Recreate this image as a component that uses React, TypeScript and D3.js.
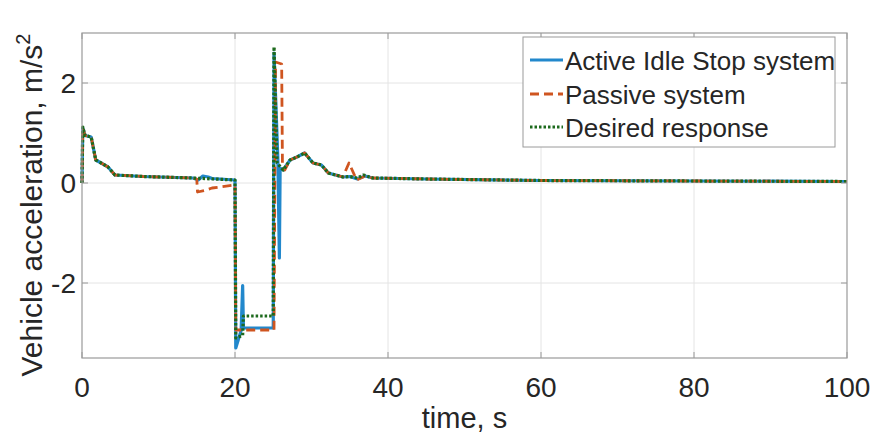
import { useMemo } from 'react';
import * as d3 from 'd3';

// time (s), acceleration (m/s^2)
const activeIdleStop: [number, number][] = [
  [0, 0], [0.1, 1.1], [0.4, 0.95], [1.2, 0.92], [1.8, 0.46], [2.5, 0.4], [3.4, 0.32], [4.3, 0.16],
  [8, 0.13], [14.5, 0.1], [15.2, 0.06], [15.8, 0.14], [16.5, 0.12], [17, 0.09], [20, 0.06],
  [20.1, -3.3], [20.8, -2.95], [21, -2.05], [21.1, -2.9], [25, -2.9], [25.1, 2.6], [25.6, 0.5],
  [25.8, -1.5], [25.9, 0.3], [26.3, 0.26], [27.2, 0.46], [28.1, 0.52], [29.1, 0.6], [30.2, 0.4],
  [31.3, 0.36], [32.2, 0.2], [34.1, 0.12], [35, 0.13], [36, 0.08], [37, 0.14], [38, 0.1],
  [45, 0.08], [60, 0.05], [80, 0.04], [100, 0.03],
];

const passiveSystem: [number, number][] = [
  [0, 0], [0.1, 1.1], [0.4, 0.95], [1.2, 0.92], [1.8, 0.46], [2.5, 0.4], [3.4, 0.32], [4.3, 0.16],
  [8, 0.13], [14.5, 0.1], [15, 0.08], [15.1, -0.18], [16, -0.15], [17, -0.1], [20, -0.04],
  [20.1, -2.94], [25.1, -2.94], [25.3, 2.42], [26.1, 2.38], [26.2, 0.4], [26.5, 0.26], [27.2, 0.46],
  [28.1, 0.52], [29.1, 0.6], [30.2, 0.4], [31.3, 0.36], [32.2, 0.2], [34.1, 0.12], [34.9, 0.4],
  [35.9, 0.06], [37, 0.14], [38, 0.1], [45, 0.08], [60, 0.05], [80, 0.04], [100, 0.03],
];

const desiredResponse: [number, number][] = [
  [0, 0], [0.1, 1.12], [0.4, 0.95], [1.2, 0.92], [1.8, 0.46], [2.5, 0.4], [3.4, 0.32], [4.3, 0.16],
  [8, 0.13], [14.5, 0.1], [20, 0.06], [20.1, -3.1], [21, -3.05], [21.1, -2.66], [25, -2.66],
  [25.1, 2.72], [25.5, 0.4], [26.3, 0.26], [27.2, 0.46], [28.1, 0.52], [29.1, 0.6], [30.2, 0.4],
  [31.3, 0.36], [32.2, 0.2], [34.1, 0.12], [35, 0.13], [36, 0.1], [36.8, 0.16], [38, 0.1],
  [45, 0.08], [60, 0.05], [80, 0.04], [100, 0.03],
];

const xTicks = [0, 20, 40, 60, 80, 100];
const yTicks = [-2, 0, 2];

const seriesNames = ['Active Idle Stop system', 'Passive system', 'Desired response'];

const width = 873;
const height = 441;
const margin = { top: 33, right: 26, bottom: 83, left: 82 };
const font = 'Arial, "Liberation Sans", Helvetica, sans-serif';

const styles = [
  { color: '#2288cc', dash: undefined, w: 3.2 },
  { color: '#cf5520', dash: '9,5', w: 2.8 },
  { color: '#1d6a1d', dash: '2.5,2', w: 3.2 },
];

const App = () => {
  const x = d3.scaleLinear().domain([0, 100]).range([margin.left, width - margin.right]);
  const y = d3.scaleLinear().domain([-3.5, 3]).range([height - margin.bottom, margin.top]);

  const paths = useMemo(() => {
    const line = d3.line<[number, number]>().x((d) => x(d[0])).y((d) => y(d[1]));
    return [activeIdleStop, passiveSystem, desiredResponse].map((s) => line(s) as string);
  }, []);

  const [x0, x1] = x.range();
  const [yb, yt] = y.range();

  const lg = { left: 523, top: 37, right: 835, bottom: 147 };
  const rowY = [60, 94, 127];

  return (
    <svg width={width} height={height} style={{ position: 'absolute', left: 0, top: 0, background: '#fff' }}>
      {/* grid */}
      {xTicks.slice(1, -1).map((t) => (
        <line key={'gx' + t} x1={x(t)} x2={x(t)} y1={yt} y2={yb} stroke="#e4e4e4" strokeWidth={1} />
      ))}
      {yTicks.map((t) => (
        <line key={'gy' + t} x1={x0} x2={x1} y1={y(t)} y2={y(t)} stroke="#e4e4e4" strokeWidth={1} />
      ))}

      {/* series */}
      {paths.map((p, i) => (
        <path key={i} d={p} fill="none" stroke={styles[i].color} strokeWidth={styles[i].w}
          strokeDasharray={styles[i].dash} strokeLinejoin="round" />
      ))}

      {/* box + ticks */}
      <rect x={x0} y={yt} width={x1 - x0} height={yb - yt} fill="none" stroke="#9a9a9a" strokeWidth={1.2} />
      {xTicks.map((t) => (
        <g key={'tx' + t}>
          <line x1={x(t)} x2={x(t)} y1={yb} y2={yb - 6} stroke="#9a9a9a" />
          <line x1={x(t)} x2={x(t)} y1={yt} y2={yt + 6} stroke="#9a9a9a" />
          <text x={x(t)} y={397} textAnchor="middle" fontFamily={font} fontSize={28} fill="#262626">{t}</text>
        </g>
      ))}
      {yTicks.map((t) => (
        <g key={'ty' + t}>
          <line x1={x0} x2={x0 + 6} y1={y(t)} y2={y(t)} stroke="#9a9a9a" />
          <line x1={x1} x2={x1 - 6} y1={y(t)} y2={y(t)} stroke="#9a9a9a" />
          <text x={76} y={y(t) + 10} textAnchor="end" fontFamily={font} fontSize={28} fill="#262626">{t}</text>
        </g>
      ))}

      {/* axis labels */}
      <text x={(x0 + x1) / 2} y={428} textAnchor="middle" fontFamily={font} fontSize={29} fill="#262626">time, s</text>
      <text transform="translate(42,205) rotate(-90)" textAnchor="middle" fontFamily={font} fontSize={30} fill="#262626">
        Vehicle acceleration, m/s<tspan dy={-12} fontSize={20}>2</tspan>
      </text>

      {/* legend */}
      <rect x={lg.left} y={lg.top} width={lg.right - lg.left} height={lg.bottom - lg.top} fill="#fff" stroke="#9a9a9a" strokeWidth={1} />
      {seriesNames.map((n, i) => (
        <g key={n}>
          <line x1={530} x2={563} y1={rowY[i]} y2={rowY[i]} stroke={styles[i].color} strokeWidth={styles[i].w}
            strokeDasharray={styles[i].dash} />
          <text x={565} y={rowY[i] + 10} fontFamily={font} fontSize={26} fill="#262626">{n}</text>
        </g>
      ))}
    </svg>
  );
};

export default App;
